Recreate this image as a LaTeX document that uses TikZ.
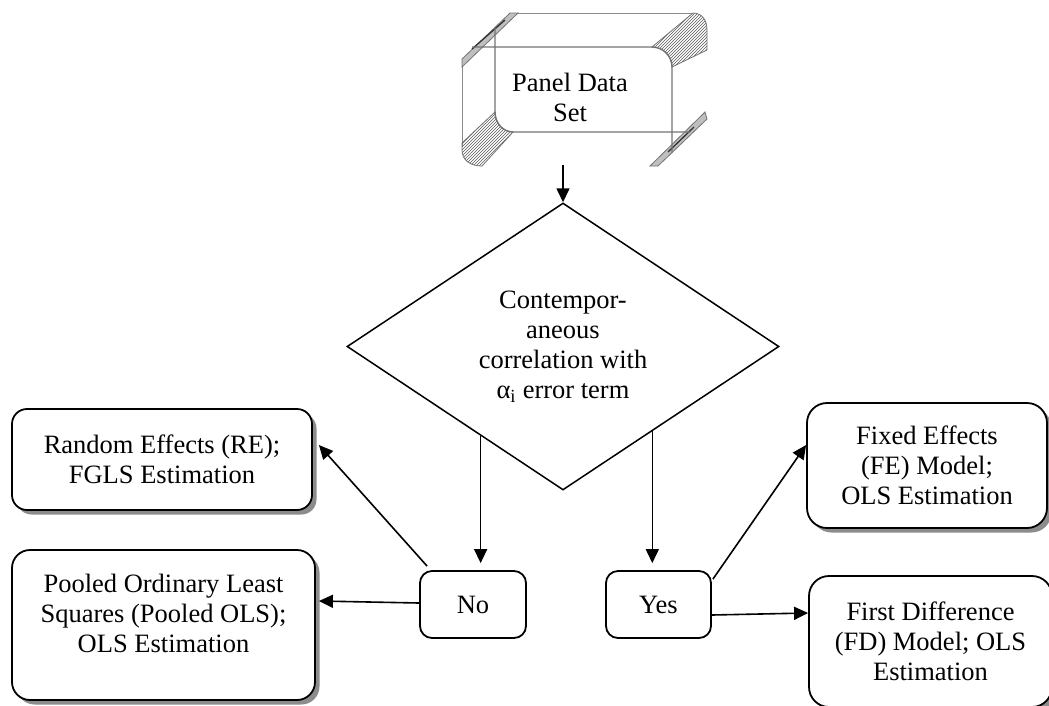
\documentclass[tikz,border=0pt]{standalone}
\usepackage{fontspec}
\setmainfont{Liberation Serif}
\usetikzlibrary{shapes.geometric,arrows.meta,shadows,patterns,calc}
\begin{document}
\begin{tikzpicture}[x=1pt,y=-1pt,
  txt/.style={font=\fontsize{26.5}{30}\selectfont, align=center},
  rbox/.style={txt, draw, fill=white, line width=1.8pt, rounded corners=15pt, inner sep=0pt},
  shad/.style={drop shadow={shadow xshift=4.5pt, shadow yshift=-4.5pt, fill=black!45, opacity=1}},
  arr/.style={line width=1.6pt, -{Triangle[length=14pt,width=13pt]}},
  bev/.style={draw=black!55, line width=1.4pt},
  hatch/.style={pattern=north east lines, pattern color=black!65, draw=black!55, line width=0.8pt},
  strip/.style={fill=black!25, draw=black!55, line width=0.8pt}
]
\useasboundingbox (0,0) rectangle (1049,705);
\clip (0,0) rectangle (1049,705);

% ---- bevel frame around "Panel Data Set"
\draw[draw=black!45, line width=0.8pt] (515,13) -- (693,13);
\draw[draw=black!45, line width=0.8pt] (462,65) -- (462,146);
\fill[hatch] (693,13) .. controls (702,13) and (707,20) .. (707,30) -- (707,50)
  -- (672,67) .. controls (672,56) and (663,47) .. (652,47) -- cycle;
\fill[hatch] (462,143) -- (495,112) .. controls (495,123) and (503,132) .. (513,132)
  -- (482,166) .. controls (470,166) and (462,160) .. (462,150) -- cycle;
\filldraw[strip] (462,59) -- (510,13) -- (518,13) -- (462,67) -- cycle;
\draw[black!80, line width=1.3pt] (472,49) -- (505,20);
\filldraw[strip] (650,166) -- (705,112) -- (707,119) -- (658,166) -- cycle;
\draw[black!80, line width=1.3pt] (668,152) -- (694,127);
\draw[bev] (472,47) -- (652,47) .. controls (663,47) and (672,56) .. (672,67) -- (672,153);
\draw[bev] (690,132) -- (513,132) .. controls (503,132) and (495,123) .. (495,112) -- (495,28);
\node[txt] (panel) at (570,97) {Panel Data\\Set};
\coordinate (bevbot) at (563,165);

% ---- decision
\node[draw, diamond, aspect=1.5, line width=1.5pt, minimum width=432pt, minimum height=287pt,
  inner sep=0pt, txt] (dia) at (563,346.5)
  {Contempor-\\aneous\\correlation with\\α\textsubscript{i} error term};

% ---- boxes
\node[rbox, shad, minimum width=300pt, minimum height=101pt] (re) at (162,459.5)
  {Random Effects (RE);\\FGLS Estimation};
\node[rbox, shad, minimum width=303pt, minimum height=150pt, rounded corners=18pt] (pooled) at (163.5,625) {};
\node[txt] (pooledtxt) at (163.5,613) {Pooled Ordinary Least\\Squares (Pooled OLS);\\OLS Estimation};
\node[rbox, rounded corners=12pt, minimum width=106pt, minimum height=67pt] (no) at (473,604.5) {No};
\node[rbox, rounded corners=12pt, minimum width=105pt, minimum height=67pt] (yes) at (658.5,604.5) {Yes};
\node[rbox, shad, minimum width=240pt, minimum height=125pt, rounded corners=20pt] (fe) at (927,465.5)
  {Fixed Effects\\(FE) Model;\\OLS Estimation};
\node[rbox, shad, minimum width=243pt, minimum height=131pt, rounded corners=20pt] (fd) at (930.5,641.5)
  {First Difference\\(FD) Model; OLS\\Estimation};

% ---- connectors
\coordinate (nos) at ($(dia.west)!0.62!(dia.south)$);
\coordinate (yess) at ($(dia.east)!0.588!(dia.south)$);
\draw[arr] (bevbot) -- (dia.north);
\draw[arr, shorten >=7pt] (nos) -- (nos |- no.north);
\draw[arr, shorten >=7pt] (yess) -- (yess |- yes.north);
\draw[arr] ($(no.north west)+(8,-4)$) -- ($(re.east)+(6,-14.5)$);
\draw[arr] ($(no.west)+(0,-1.5)$) -- ($(pooled.east)+(3,-24)$);
\draw[arr] ($(yes.north east)+(1,9)$) -- ($(fe.west)+(0,-20.5)$);
\draw[arr] ($(yes.east)+(0,10.5)$) -- ($(fd.west)+(0,-28.5)$);
\end{tikzpicture}
\end{document}
